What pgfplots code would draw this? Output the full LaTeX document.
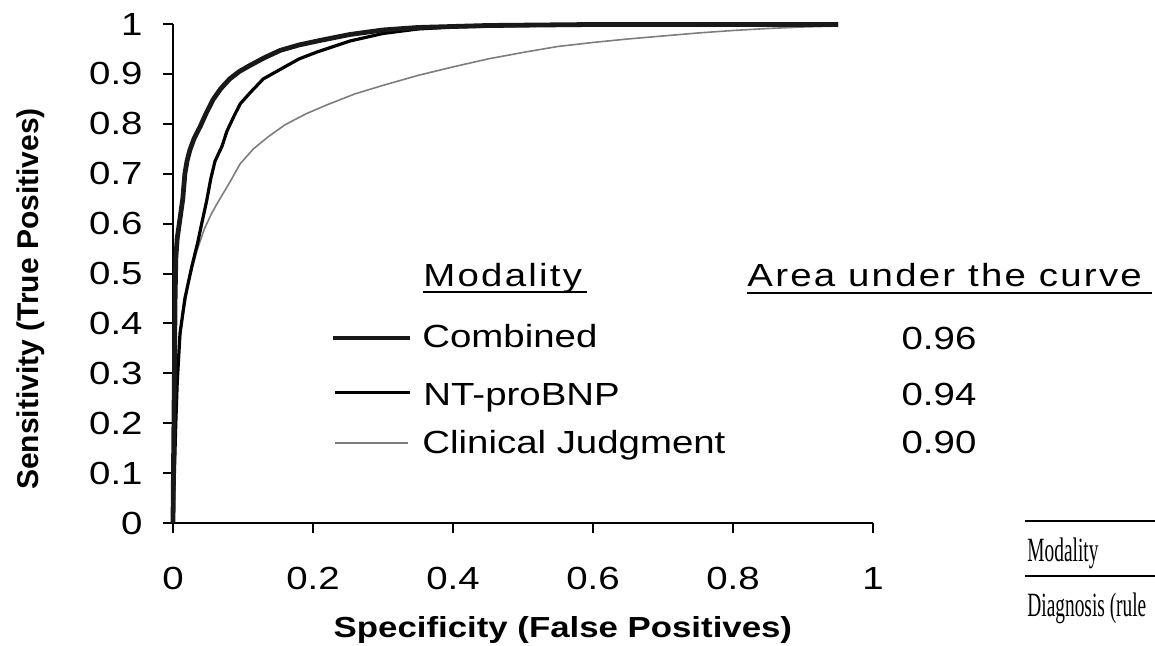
\documentclass[border=0pt]{standalone}
\usepackage{fontspec}
\setmainfont{Liberation Sans}[FakeStretch=1.2]
\newfontfamily\plainsans{Liberation Sans}
\newfontfamily\hdrfont{Liberation Sans}[FakeStretch=1.2,LetterSpace=7]
\newfontfamily\serifc{Liberation Serif}[FakeStretch=0.57]
\usepackage{pgfplots}
\pgfplotsset{compat=1.18}
\usepackage{pgfplotstable}
\definecolor{clin}{RGB}{125,125,125}

\pgfplotstableread{
x y
0 0
0.001 0.15
0.002 0.30
0.003 0.45
0.004 0.53
0.006 0.57
0.009 0.60
0.012 0.63
0.014 0.65
0.017 0.70
0.020 0.725
0.024 0.747
0.030 0.77
0.039 0.795
0.047 0.82
0.057 0.848
0.068 0.87
0.081 0.89
0.095 0.905
0.110 0.917
0.130 0.932
0.153 0.947
0.180 0.958
0.210 0.967
0.253 0.979
0.300 0.988
0.350 0.993
0.450 0.997
0.600 0.999
0.950 0.999
}\combined

\pgfplotstableread{
x y
0 0
0.002 0.10
0.004 0.20
0.006 0.28
0.010 0.38
0.017 0.45
0.027 0.515
0.035 0.56
0.041 0.60
0.048 0.645
0.054 0.69
0.060 0.725
0.070 0.755
0.077 0.785
0.087 0.815
0.096 0.84
0.110 0.862
0.129 0.89
0.157 0.912
0.180 0.93
0.206 0.944
0.253 0.966
0.300 0.981
0.350 0.990
0.400 0.994
0.500 0.997
0.600 0.998
0.950 0.999
}\ntprobnp

\pgfplotstableread{
x y
0 0
0.002 0.10
0.004 0.20
0.007 0.30
0.011 0.38
0.015 0.42
0.022 0.48
0.034 0.545
0.045 0.59
0.055 0.62
0.065 0.645
0.080 0.68
0.096 0.72
0.115 0.75
0.137 0.775
0.160 0.798
0.190 0.82
0.220 0.838
0.260 0.86
0.300 0.877
0.350 0.897
0.400 0.914
0.450 0.930
0.500 0.943
0.550 0.955
0.600 0.963
0.650 0.970
0.700 0.976
0.750 0.982
0.800 0.987
0.850 0.991
0.900 0.994
0.950 0.996
}\clinical

\begin{document}
\begin{tikzpicture}
\path[use as bounding box] (0,0) rectangle (577.5pt,-323pt);
\begin{axis}[
  at={(86.5pt,-261.5pt)}, anchor=origin,
  scale only axis, width=350pt, height=249.5pt,
  xmin=0, xmax=1, ymin=0, ymax=1,
  axis lines*=left,
  axis line style={line width=1pt, black},
  tick align=outside, major tick length=5pt,
  tick style={line width=1pt, black},
  xtick={0,0.2,0.4,0.6,0.8,1},
  ytick={0,0.1,0.2,0.3,0.4,0.5,0.6,0.7,0.8,0.9,1},
  /pgf/number format/assume math mode=true,
  ticklabel style={font=\fontsize{16}{16}\selectfont},
  yticklabel style={anchor=east, inner sep=0pt, xshift=-10pt},
  xticklabel style={anchor=north, inner sep=0pt, yshift=-17pt},
  xlabel={Specificity (False Positives)},
  ylabel={Sensitivity (True Positives)},
  every axis x label/.style={at={(axis description cs:0.557,-0.214)}, anchor=center, font=\fontsize{14.5}{14.5}\selectfont\bfseries},
  every axis y label/.style={at={(axis description cs:-0.203,0.449)}, rotate=90, anchor=center, font=\plainsans\fontsize{15}{15}\selectfont\bfseries},
  clip=false,
]
\addplot[clin, line width=0.8pt] table {\clinical};
\addplot[black, line width=1.6pt] table {\ntprobnp};
\addplot[black!90, line width=2.4pt] table {\combined};
\end{axis}
\begin{scope}[x=0.5pt, y=-0.5pt]
  \node[anchor=base west, inner sep=0pt, font=\fontsize{16}{16}\selectfont\hdrfont] at (423,287) {Modality};
  \draw[line width=1pt] (423,292) -- (587,292);
  \node[anchor=base west, inner sep=0pt, font=\fontsize{16}{16}\selectfont\hdrfont] at (747,287) {Area under the curve};
  \draw[line width=1pt] (747,293) -- (1152,293);
  \draw[line width=2pt, black!90] (333,338) -- (410,338);
  \draw[line width=1.5pt, black] (335,392) -- (410,392);
  \draw[line width=0.8pt, clin] (335,443) -- (408,443);
  \node[anchor=base west, inner sep=0pt, font=\fontsize{16}{16}\selectfont] at (422,348) {Combined};
  \node[anchor=base west, inner sep=0pt, font=\fontsize{16}{16}\selectfont] at (423,405) {NT-proBNP};
  \node[anchor=base west, inner sep=0pt, font=\fontsize{16}{16}\selectfont] at (422,453) {Clinical Judgment};
  \node[anchor=base, inner sep=0pt, font=\fontsize{16}{16}\selectfont] at (939,350) {0.96};
  \node[anchor=base, inner sep=0pt, font=\fontsize{16}{16}\selectfont] at (939,405) {0.94};
  \node[anchor=base, inner sep=0pt, font=\fontsize{16}{16}\selectfont] at (939,453) {0.90};
  \draw[line width=0.8pt] (1025,521) -- (1160,521);
  \node[anchor=base west, inner sep=0pt, font=\serifc\fontsize{17}{17}\selectfont] at (1027,561) {Modality};
  \draw[line width=0.8pt] (1025,576) -- (1160,576);
  \node[anchor=base west, inner sep=0pt, font=\serifc\fontsize{17}{17}\selectfont] at (1027,616) {Diagnosis (rule};
\end{scope}
\end{tikzpicture}
\end{document}
